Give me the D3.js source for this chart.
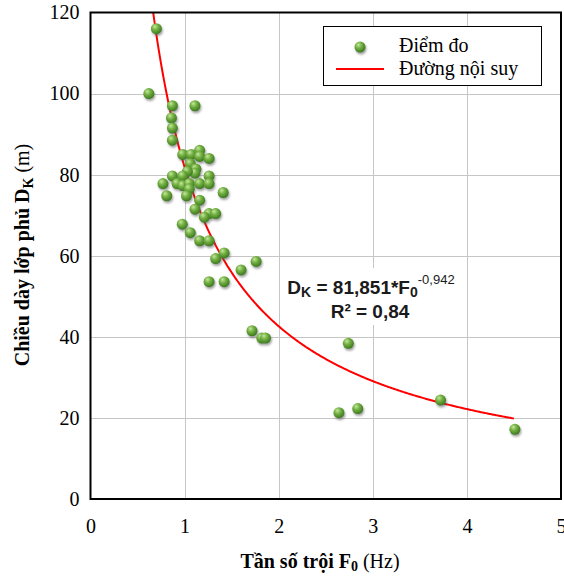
<!DOCTYPE html>
<html>
<head>
<meta charset="utf-8">
<script src="https://cdn.jsdelivr.net/npm/d3@7"></script>
<style>
  html, body { margin: 0; padding: 0; background: #fff; }
  svg { display: block; }
</style>
</head>
<body>
<svg id="chart" width="564" height="577"></svg>
<script>
// Measured points: dominant frequency F0 (Hz) and overburden thickness DK (m)
const freq = [0.70, 0.62, 0.87, 1.11, 0.86, 0.87, 0.87, 0.98, 1.07, 1.16,
              1.16, 1.26, 1.06, 1.12, 1.11, 1.03, 0.87, 0.98, 1.26, 0.77,
              0.92, 0.98, 1.05, 1.16, 1.26, 1.05, 0.81, 1.02, 1.41, 1.16,
              1.11, 1.26, 1.33, 1.21, 0.975, 1.06, 1.16, 1.26, 1.42, 1.33,
              1.76, 1.60, 1.26, 1.42, 1.716, 1.82, 1.86, 2.74, 2.64, 2.84,
              3.72, 4.51];
const depth = [116, 100, 97, 97, 94, 91.5, 88.5, 85, 85, 86,
               84.5, 84, 82.7, 81.4, 80.4, 80.8, 79.7, 79.7, 79.7, 77.8,
               77.8, 77.3, 77.8, 77.8, 77.8, 76.5, 74.8, 74.8, 75.6, 73.7,
               71.5, 70.4, 70.4, 69.5, 67.8, 65.7, 63.7, 63.7, 60.7, 59.3,
               58.6, 56.5, 53.6, 53.6, 41.5, 39.7, 39.7, 38.4, 21.3, 22.3,
               24.4, 17.2];

// Power-law fit DK = a * F0^b
const fitA = 81.851;
const fitB = -0.942;
const fitR2 = "0,84";
const fitRange = [0.6, 4.5];

const xTicks = [0, 1, 2, 3, 4, 5];
const yTicks = [0, 20, 40, 60, 80, 100, 120];

const legendLabels = ["Điểm đo", "Đường nội suy"];

const svg = d3.select("#chart");
const plot = { left: 90.5, right: 561, top: 12.5, bottom: 499 };

const x = d3.scaleLinear().domain([0, 5]).range([plot.left, plot.right]);
const y = d3.scaleLinear().domain([0, 120]).range([plot.bottom, plot.top]);

const defs = svg.append("defs");
const grad = defs.append("radialGradient")
  .attr("id", "ball").attr("cx", "40%").attr("cy", "35%").attr("r", "65%")
  .attr("fx", "35%").attr("fy", "30%");
grad.append("stop").attr("offset", "0%").attr("stop-color", "#c4e89c");
grad.append("stop").attr("offset", "45%").attr("stop-color", "#74b043");
grad.append("stop").attr("offset", "100%").attr("stop-color", "#3c7a1e");

const shadow = defs.append("filter").attr("id", "shadow")
  .attr("x", "-50%").attr("y", "-50%").attr("width", "200%").attr("height", "200%");
shadow.append("feDropShadow").attr("dx", 1).attr("dy", 2)
  .attr("stdDeviation", 1.2).attr("flood-color", "#555").attr("flood-opacity", 0.55);

defs.append("clipPath").attr("id", "plotClip").append("rect")
  .attr("x", plot.left).attr("y", plot.top)
  .attr("width", plot.right - plot.left).attr("height", plot.bottom - plot.top);

// Gridlines
const grid = svg.append("g");
grid.selectAll(".gy").data(yTicks.slice(1, -1)).join("line")
  .attr("x1", plot.left).attr("x2", plot.right)
  .attr("y1", d => Math.round(y(d)) + 0.5).attr("y2", d => Math.round(y(d)) + 0.5)
  .attr("stroke", "#c6c6c6").attr("stroke-width", 1);
grid.selectAll(".gx").data(xTicks.slice(1, -1)).join("line")
  .attr("x1", d => Math.round(x(d)) + 0.5).attr("x2", d => Math.round(x(d)) + 0.5)
  .attr("y1", plot.top).attr("y2", plot.bottom)
  .attr("stroke", "#c6c6c6").attr("stroke-width", 1);

// Axes (labels only; frame drawn separately)
const serif = "'Liberation Serif', 'Times New Roman', serif";
const xAxis = d3.axisBottom(x).tickValues(xTicks).tickFormat(d3.format("d"))
  .tickSize(0).tickPadding(20);
const yAxis = d3.axisLeft(y).tickValues(yTicks).tickFormat(d3.format("d"))
  .tickSize(0).tickPadding(11);
const gx = svg.append("g").attr("transform", `translate(0,${plot.bottom})`).call(xAxis);
const gy = svg.append("g").attr("transform", `translate(${plot.left},0)`).call(yAxis);
[gx, gy].forEach(g => {
  g.select(".domain").remove();
  g.selectAll("text").attr("font-family", serif).attr("font-size", 20).attr("fill", "#000");
});

// Equation label background
const eq = svg.append("g");
eq.append("rect").attr("x", 282).attr("y", 268).attr("width", 180).attr("height", 57)
  .attr("fill", "#fff");

// Fitted curve
const curvePts = d3.range(fitRange[0], fitRange[1] + 1e-9, 0.01)
  .map(f => [f, fitA * Math.pow(f, fitB)]);
svg.append("path").datum(curvePts)
  .attr("clip-path", "url(#plotClip)")
  .attr("fill", "none").attr("stroke", "#ff0000").attr("stroke-width", 2)
  .attr("d", d3.line().x(d => x(d[0])).y(d => y(d[1])));

// Measured points
svg.append("g").attr("filter", "url(#shadow)")
  .selectAll("circle").data(d3.zip(freq, depth)).join("circle")
  .attr("cx", d => x(d[0])).attr("cy", d => y(d[1])).attr("r", 5.5)
  .attr("fill", "url(#ball)");

// Plot frame
svg.append("rect").attr("x", plot.left).attr("y", plot.top)
  .attr("width", plot.right - plot.left).attr("height", plot.bottom - plot.top)
  .attr("fill", "none").attr("stroke", "#000").attr("stroke-width", 2);

// Equation text
const eqFont = "'Liberation Sans', Arial, sans-serif";
const t1 = eq.append("text").attr("x", 371).attr("y", 294).attr("text-anchor", "middle")
  .attr("font-family", eqFont).attr("font-size", 19).attr("font-weight", "bold").attr("fill", "#1a1a1a");
t1.append("tspan").text("D");
t1.append("tspan").attr("font-size", 14).attr("dy", 3).text("K");
t1.append("tspan").attr("dy", -3).text(" = 81,851*F");
t1.append("tspan").attr("font-size", 14).attr("dy", 3).text("0");
t1.append("tspan").attr("font-size", 13).attr("font-weight", "normal").attr("dy", -13).text("-0,942");
eq.append("text").attr("x", 370).attr("y", 318).attr("text-anchor", "middle")
  .attr("font-family", eqFont).attr("font-size", 19).attr("font-weight", "bold").attr("fill", "#1a1a1a")
  .text("R² = " + fitR2);

// Legend
const lg = svg.append("g");
lg.append("rect").attr("x", 323.5).attr("y", 26.5).attr("width", 218).attr("height", 59)
  .attr("fill", "#fff").attr("stroke", "#000").attr("stroke-width", 1);
lg.append("circle").attr("cx", 360).attr("cy", 47).attr("r", 5.5)
  .attr("fill", "url(#ball)").attr("filter", "url(#shadow)");
lg.append("line").attr("x1", 336).attr("x2", 384).attr("y1", 69).attr("y2", 69)
  .attr("stroke", "#ff0000").attr("stroke-width", 2);
lg.selectAll("text").data(legendLabels).join("text")
  .attr("x", 399).attr("y", (d, i) => 52 + i * 23)
  .attr("font-family", serif).attr("font-size", 20).attr("fill", "#000").text(d => d);

// Axis titles
const xt = svg.append("text").attr("x", 320).attr("y", 568).attr("text-anchor", "middle")
  .attr("font-family", serif).attr("font-size", 20).attr("fill", "#000");
xt.append("tspan").attr("font-weight", "bold").text("Tần số trội F");
xt.append("tspan").attr("font-weight", "bold").attr("font-size", 14).attr("dy", 3).text("0");
xt.append("tspan").attr("dy", -3).text(" (Hz)");

const yt = svg.append("text").attr("transform", "translate(29,255) rotate(-90)")
  .attr("text-anchor", "middle").attr("font-family", serif).attr("font-size", 20).attr("fill", "#000");
yt.append("tspan").attr("font-weight", "bold").text("Chiều dày lớp phủ D");
yt.append("tspan").attr("font-weight", "bold").attr("font-size", 14).attr("dy", 4).text("K");
yt.append("tspan").attr("dy", -4).text(" (m)");
</script>
</body>
</html>
